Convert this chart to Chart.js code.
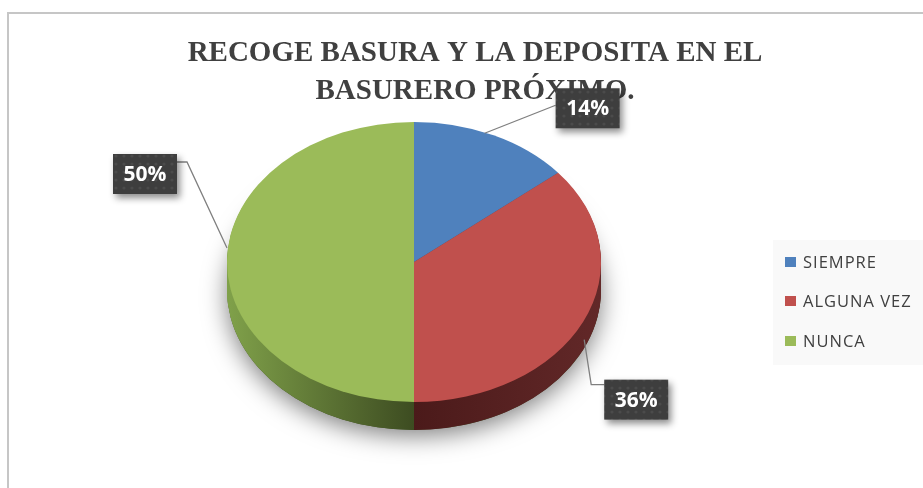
<!DOCTYPE html>
<html><head><meta charset="utf-8">
<script src="https://cdn.jsdelivr.net/npm/chart.js@4.4.0/dist/chart.umd.min.js"></script>
<style>
html,body{margin:0;padding:0;background:#fff;overflow:hidden;width:923px;height:488px;}
#frame{position:absolute;left:7px;top:12px;width:960px;height:520px;border:2px solid #c6c6c6;box-sizing:border-box;}
canvas{position:absolute;left:0;top:0;}
</style></head><body>
<div id="frame"></div>
<canvas id="c" width="923" height="488"></canvas>
<script>
// ---- data ----
const titleLines = ['RECOGE BASURA Y LA DEPOSITA EN EL', 'BASURERO PRÓXIMO.'];
const categories = ['SIEMPRE', 'ALGUNA VEZ', 'NUNCA'];
const values = [14, 36, 50];
const valueLabels = ['14%', '36%', '50%'];

// ---- styles ----
const topColors = ['#4f81bd', '#c0504d', '#9bbb59'];
const sideStops = [
  ['#2f4d72', '#2f4d72', '#3a5d88'],
  ['#4b1a1a', '#4b1a1a', '#622828'],
  ['#80a14a', '#3d4c21', '#3d4c21']
];
const SQUASH = 0.749;
const DEPTH = 28;
// label placement relative to slice edge point: [boxDX, boxDY]
const labelBox = [[94, -27], [53, 78], [-82, -88]];
const BOX_W = 64, BOX_H = 40;

function dotPattern(ctx) {
  const p = document.createElement('canvas');
  p.width = 8; p.height = 8;
  const g = p.getContext('2d');
  g.fillStyle = '#3e3e3e'; g.fillRect(0, 0, 8, 8);
  g.fillStyle = 'rgba(255,255,255,0.07)';
  g.beginPath(); g.arc(4, 4, 1.6, 0, Math.PI * 2); g.fill();
  return ctx.createPattern(p, 'repeat');
}

const pie3d = {
  id: 'pie3d',
  beforeDraw(chart) {
    const ctx = chart.ctx;
    ctx.save();
    // title
    ctx.fillStyle = '#404040';
    ctx.font = 'bold 29px "Liberation Serif"';
    ctx.textAlign = 'center';
    ctx.textBaseline = 'alphabetic';
    ctx.fillText(titleLines[0], 475, 61);
    ctx.fillText(titleLines[1], 475, 99);
    // legend
    ctx.fillStyle = '#f9f9f9';
    ctx.fillRect(773, 240, 160, 125);
    ctx.font = '16.5px "Open Sans"';
    if ('letterSpacing' in ctx) ctx.letterSpacing = '1px';
    ctx.textAlign = 'left';
    ctx.textBaseline = 'middle';
    const ly = [262, 301, 341];
    categories.forEach((c, i) => {
      ctx.fillStyle = topColors[i];
      ctx.fillRect(785, ly[i] - 5, 11, 10);
      ctx.fillStyle = '#404040';
      ctx.fillText(c, 803, ly[i] + 1);
    });
    ctx.restore();
  },
  beforeDatasetsDraw(chart) {
    const ctx = chart.ctx;
    const arcs = chart.getDatasetMeta(0).data;
    const cx = arcs[0].x, cy = arcs[0].y, r = arcs[0].outerRadius;
    ctx.save();
    ctx.translate(cx, cy); ctx.scale(1, SQUASH); ctx.translate(-cx, -cy);
    // shadow under the pie
    ctx.save();
    ctx.shadowColor = 'rgba(0,0,0,0.5)';
    ctx.shadowBlur = 24;
    ctx.shadowOffsetY = 6;
    ctx.fillStyle = '#3d4c21';
    ctx.beginPath();
    ctx.arc(cx, cy + DEPTH / SQUASH, r, 0, Math.PI * 2);
    ctx.fill();
    ctx.restore();
    // sides
    for (let d = DEPTH; d >= 1; d--) {
      arcs.forEach((a, i) => {
        const g = ctx.createLinearGradient(cx - r, 0, cx + r, 0);
        g.addColorStop(0, sideStops[i][0]);
        g.addColorStop(0.5, sideStops[i][1]);
        g.addColorStop(1, sideStops[i][2]);
        ctx.fillStyle = g;
        ctx.beginPath();
        ctx.moveTo(cx, cy + d / SQUASH);
        ctx.arc(cx, cy + d / SQUASH, r, a.startAngle, a.endAngle);
        ctx.closePath();
        ctx.fill();
      });
    }
    // keep transform for the top face (restored in afterDatasetsDraw)
  },
  afterDatasetsDraw(chart) {
    chart.ctx.restore();
  },
  afterDraw(chart) {
    const ctx = chart.ctx;
    const arcs = chart.getDatasetMeta(0).data;
    const cx = arcs[0].x, cy = arcs[0].y, r = arcs[0].outerRadius;
    const pat = dotPattern(ctx);
    ctx.save();
    arcs.forEach((a, i) => {
      const mid = (a.startAngle + a.endAngle) / 2;
      const ax = cx + r * Math.cos(mid);
      const ay = cy + r * SQUASH * Math.sin(mid);
      const bx = ax + labelBox[i][0], by = ay + labelBox[i][1];
      const left = bx - BOX_W / 2, top = by - BOX_H / 2;
      // leader line
      ctx.strokeStyle = '#7f7f7f';
      ctx.lineWidth = 1.3;
      ctx.beginPath();
      if (i === 0) {
        ctx.moveTo(ax - 9, ay - 2);
        ctx.lineTo(left, by - 3);
      } else if (i === 1) {
        ctx.moveTo(ax + 1, ay + 18);
        ctx.lineTo(left - 13, by - 15);
        ctx.lineTo(left, by - 15);
      } else {
        ctx.moveTo(ax, ay - 14);
        ctx.lineTo(left + BOX_W + 10, by - 12);
        ctx.lineTo(left + BOX_W, by - 12);
      }
      ctx.stroke();
      // box
      ctx.save();
      ctx.shadowColor = 'rgba(0,0,0,0.45)';
      ctx.shadowBlur = 7;
      ctx.shadowOffsetX = 3;
      ctx.shadowOffsetY = 4;
      ctx.fillStyle = pat;
      ctx.fillRect(left, top, BOX_W, BOX_H);
      ctx.restore();
      ctx.fillStyle = '#ffffff';
      ctx.font = 'bold 21px "Open Sans"';
      ctx.textAlign = 'center';
      ctx.textBaseline = 'middle';
      ctx.fillText(valueLabels[i], bx, by + 1);
    });
    ctx.restore();
  }
};

new Chart(document.getElementById('c'), {
  type: 'pie',
  data: {
    labels: categories,
    datasets: [{
      data: values,
      backgroundColor: topColors,
      borderWidth: 0,
      hoverOffset: 0,
      offset: 0,
      clip: false
    }]
  },
  options: {
    responsive: false,
    animation: false,
    events: [],
    layout: { padding: { left: 227, right: 322, top: 75, bottom: 39 } },
    plugins: {
      legend: { display: false },
      title: { display: false },
      tooltip: { enabled: false }
    }
  },
  plugins: [pie3d]
});
</script>
</body></html>
